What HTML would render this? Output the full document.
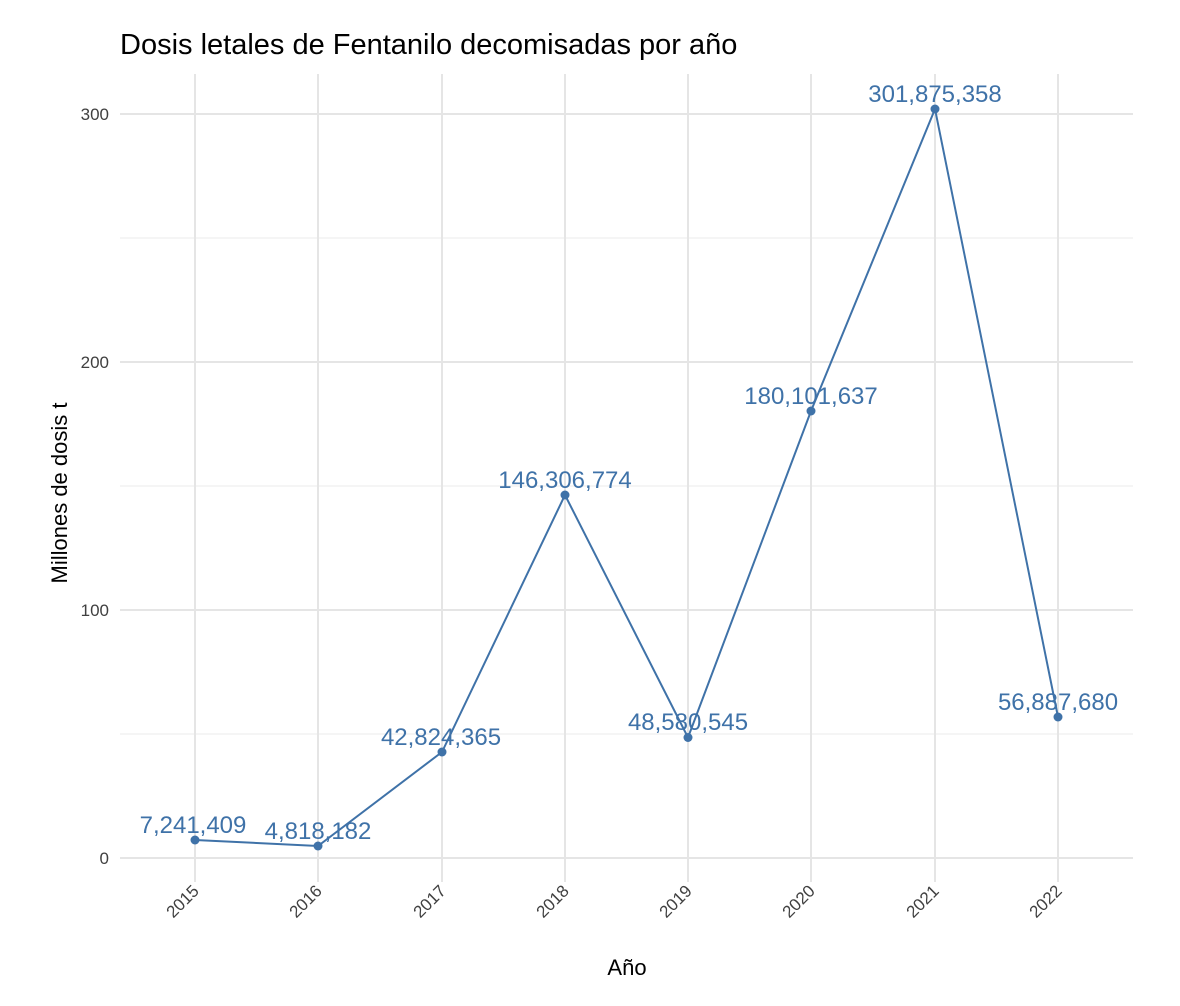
<!DOCTYPE html>
<html><head><meta charset="utf-8"><style>
html,body{margin:0;padding:0;background:#fff}
svg{display:block;font-family:"Liberation Sans",sans-serif}
</style></head><body>
<svg width="1180" height="1006" viewBox="0 0 1180 1006" xmlns="http://www.w3.org/2000/svg">
<rect width="1180" height="1006" fill="#fff"/>
<g stroke="#ebebeb" stroke-width="1">
<line x1="120" x2="1133" y1="734" y2="734"/>
<line x1="120" x2="1133" y1="486" y2="486"/>
<line x1="120" x2="1133" y1="238" y2="238"/>
</g>
<g stroke="#e5e5e5" stroke-width="2">
<line x1="120" x2="1133" y1="858" y2="858"/>
<line x1="120" x2="1133" y1="610" y2="610"/>
<line x1="120" x2="1133" y1="362" y2="362"/>
<line x1="120" x2="1133" y1="114" y2="114"/>
<line x1="195" x2="195" y1="74" y2="882"/>
<line x1="318" x2="318" y1="74" y2="882"/>
<line x1="442" x2="442" y1="74" y2="882"/>
<line x1="565" x2="565" y1="74" y2="882"/>
<line x1="688" x2="688" y1="74" y2="882"/>
<line x1="811" x2="811" y1="74" y2="882"/>
<line x1="935" x2="935" y1="74" y2="882"/>
<line x1="1058" x2="1058" y1="74" y2="882"/>
</g>
<polyline fill="none" stroke="#3f72a8" stroke-width="2" points="195,840 318,846 442,752 565,495 688,737.5 811,411 935,109 1058,717"/>
<g fill="#3f72a8">
<circle cx="195" cy="840" r="4.5"/><circle cx="318" cy="846" r="4.5"/><circle cx="442" cy="752" r="4.5"/><circle cx="565" cy="495" r="4.5"/><circle cx="688" cy="737.5" r="4.5"/><circle cx="811" cy="411" r="4.5"/><circle cx="935" cy="109" r="4.5"/><circle cx="1058" cy="717" r="4.5"/>
</g>
<g fill="#3f72a8" font-size="24" text-anchor="middle">
<text x="193" y="833">7,241,409</text>
<text x="318" y="839">4,818,182</text>
<text x="441" y="745">42,824,365</text>
<text x="565" y="488">146,306,774</text>
<text x="688" y="730">48,580,545</text>
<text x="811" y="404">180,101,637</text>
<text x="935" y="102">301,875,358</text>
<text x="1058" y="710">56,887,680</text>
</g>
<g fill="#404040" font-size="17" text-anchor="end">
<text x="109" y="864">0</text>
<text x="109" y="616">100</text>
<text x="109" y="368">200</text>
<text x="109" y="120">300</text>
</g>
<g fill="#404040" font-size="17" text-anchor="end">
<text transform="translate(200,892) rotate(-45)">2015</text>
<text transform="translate(323,892) rotate(-45)">2016</text>
<text transform="translate(447,892) rotate(-45)">2017</text>
<text transform="translate(570,892) rotate(-45)">2018</text>
<text transform="translate(693,892) rotate(-45)">2019</text>
<text transform="translate(816,892) rotate(-45)">2020</text>
<text transform="translate(940,892) rotate(-45)">2021</text>
<text transform="translate(1063,892) rotate(-45)">2022</text>
</g>
<text x="627" y="975" font-size="22" text-anchor="middle" fill="#000">Año</text>
<text transform="translate(67,493) rotate(-90)" font-size="22" text-anchor="middle" fill="#000">Millones de dosis t</text>
<text x="120" y="54" font-size="29" fill="#000">Dosis letales de Fentanilo decomisadas por año</text>
</svg>
</body></html>
